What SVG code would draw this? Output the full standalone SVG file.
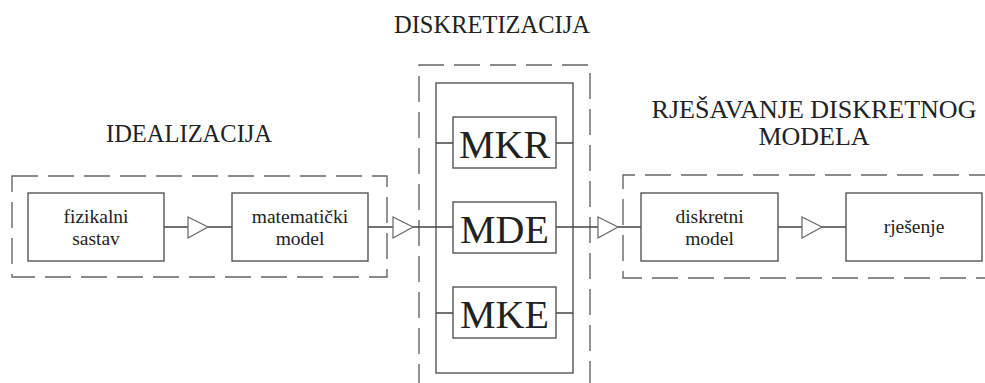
<svg xmlns="http://www.w3.org/2000/svg" width="985" height="383" viewBox="0 0 985 383">
<style>
.dash{fill:none;stroke:#666;stroke-width:1.4;stroke-dasharray:26 10}
.box{fill:#fff;stroke:#555;stroke-width:1.4}
.ln{fill:none;stroke:#444;stroke-width:1.3}
.tri{fill:#fff;stroke:#666;stroke-width:1.2}
text{font-family:'Liberation Serif','Tinos','DejaVu Serif',serif;fill:#222}
.title{font-size:24.5px}
.lbl{font-size:19.5px;text-anchor:middle}
.big{font-size:40px;text-anchor:middle}
</style>
<rect width="985" height="383" fill="#fff"/>
<g id="group-idealizacija">
<rect class="dash" x="12" y="176" width="375" height="101"/>
<text class="title" x="106" y="142" font-family="Liberation Serif, serif">IDEALIZACIJA</text>
</g>
<g id="group-diskretizacija">
<path class="dash" d="M419,390 V65 H590 V390"/>
<text class="title" x="394" y="33" font-family="Liberation Serif, serif">DISKRETIZACIJA</text>
<rect class="box" x="436" y="83" width="137" height="290"/>
</g>
<g id="group-rjesavanje">
<path class="dash" d="M995,175 H623 V278 H995"/>
<text class="title" x="814" y="118" text-anchor="middle" style="font-size:26px">RJEŠAVANJE DISKRETNOG</text>
<text class="title" x="814" y="145" text-anchor="middle" style="font-size:26px">MODELA</text>
</g>
<g id="connectors">
<path class="ln" d="M164,227 H190 M208,227 H232"/>
<path class="ln" d="M368,227 H395 M413,227 H453"/>
<path class="ln" d="M556,227 H599 M618,227 H641"/>
<path class="ln" d="M778,227 H803 M822,227 H846"/>
<path class="ln" d="M436,143 H453 M556,143 H573"/>
<path class="ln" d="M436,313 H453 M556,313 H573"/>
<polygon class="tri" points="188,217 208,227 188,238"/>
<polygon class="tri" points="393,217 413,227 393,238"/>
<polygon class="tri" points="598,217 618,227 598,238"/>
<polygon class="tri" points="802,217 822,227 802,238"/>
</g>
<g id="fizikalni-sastav">
<rect class="box" x="28" y="193" width="136" height="68"/>
<text class="lbl" x="96" y="223">fizikalni</text>
<text class="lbl" x="96" y="245">sastav</text>
</g>
<g id="matematicki-model">
<rect class="box" x="232" y="193" width="136" height="68"/>
<text class="lbl" x="300" y="223">matematički</text>
<text class="lbl" x="300" y="245">model</text>
</g>
<g id="mkr">
<rect class="box" x="453" y="117" width="103" height="51"/>
<text class="big" x="504.5" y="158">MKR</text>
</g>
<g id="mde">
<rect class="box" x="453" y="202" width="103" height="51"/>
<text class="big" x="504.5" y="243">MDE</text>
</g>
<g id="mke">
<rect class="box" x="453" y="287" width="103" height="51"/>
<text class="big" x="504.5" y="328">MKE</text>
</g>
<g id="diskretni-model">
<rect class="box" x="641" y="193" width="137" height="68"/>
<text class="lbl" x="709.5" y="223">diskretni</text>
<text class="lbl" x="709.5" y="245">model</text>
</g>
<g id="rjesenje">
<rect class="box" x="846" y="193" width="136" height="68"/>
<text class="lbl" x="914" y="233">rješenje</text>
</g>
</svg>
